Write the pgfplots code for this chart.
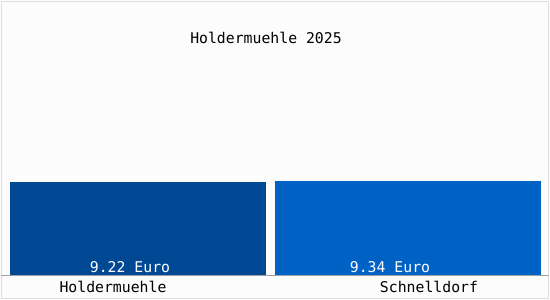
\documentclass[border=0pt]{standalone}
\usepackage{pgfplots}
\pgfplotsset{compat=1.18}
\usepackage{fontspec}
\newfontfamily\monofont{DejaVu Sans Mono}
\definecolor{barA}{RGB}{0,72,148}
\definecolor{barB}{RGB}{0,98,196}
\definecolor{frameCol}{RGB}{222,222,222}
\definecolor{baseCol}{RGB}{160,160,160}
\definecolor{bgCol}{RGB}{252,252,252}
\tikzset{lbl/.style={font=\monofont\fontsize{14.8bp}{16bp}\selectfont, inner sep=0pt}}
\begin{document}
\begin{tikzpicture}
\begin{axis}[
  at={(0,0)}, anchor=south west,
  scale only axis, width=550bp, height=300bp,
  xmin=0, xmax=550, ymin=-2.478, ymax=27.26,
  axis lines=none, ticks=none,
  clip=false,
  ybar, bar shift=0pt,
]
\fill[bgCol] (axis cs:0,-2.478) rectangle (axis cs:550,27.26);
\draw[frameCol, line width=1bp] (axis cs:1.5,-2.33) rectangle (axis cs:548.5,27.11);
\addplot[fill=barA, draw=none, bar width=256] coordinates {(138,9.22)};
\addplot[fill=barB, draw=none, bar width=266] coordinates {(408,9.34)};
\draw[baseCol, line width=1bp] (axis cs:1.5,0) -- (axis cs:548.5,0);
\node[lbl, white, anchor=base] at (axis cs:130,0.2) {9.22 Euro};
\node[lbl, white, anchor=base] at (axis cs:390,0.2) {9.34 Euro};
\node[lbl, black, anchor=base] at (axis cs:113,-1.73) {Holdermuehle};
\node[lbl, black, anchor=base] at (axis cs:429,-1.73) {Schnelldorf};
\node[lbl, black, anchor=base] at (axis cs:266,22.95) {Holdermuehle 2025};
\end{axis}
\useasboundingbox (0,0) rectangle (550bp,300bp);
\end{tikzpicture}
\end{document}
